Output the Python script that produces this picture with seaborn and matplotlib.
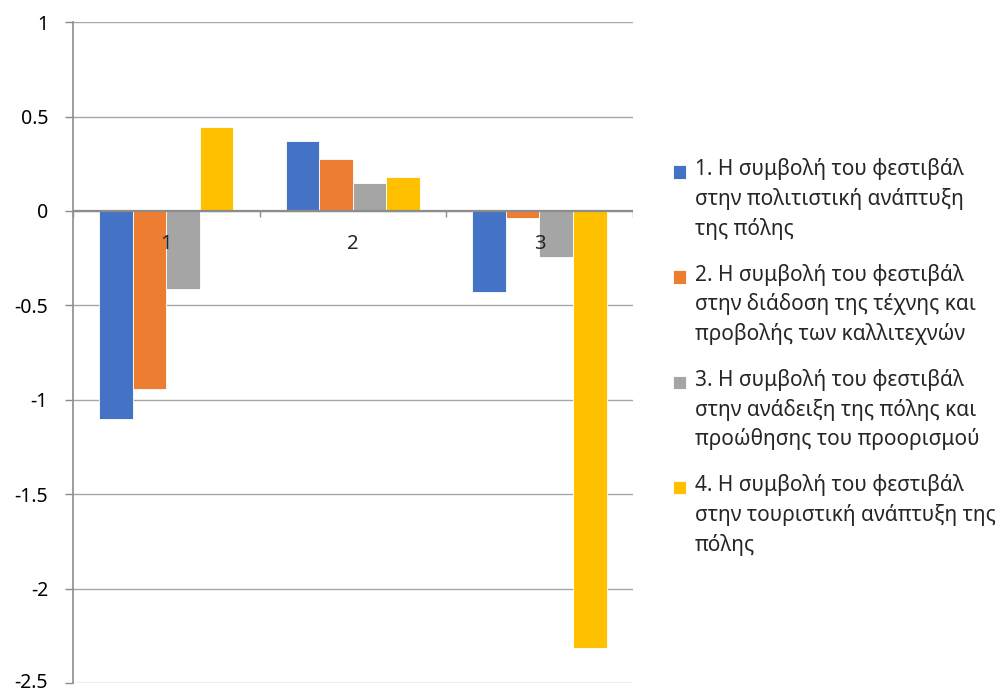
import numpy as np
import pandas as pd
import seaborn as sns
import matplotlib.pyplot as plt
import matplotlib.transforms as mtransforms

categories = ["1", "2", "3"]
series = [
    "1. Η συμβολή του φεστιβάλ\nστην πολιτιστική ανάπτυξη\nτης πόλης",
    "2. Η συμβολή του φεστιβάλ\nστην διάδοση της τέχνης και\nπροβολής των καλλιτεχνών",
    "3. Η συμβολή του φεστιβάλ\nστην ανάδειξη της πόλης και\nπροώθησης του προορισμού",
    "4. Η συμβολή του φεστιβάλ\nστην τουριστική ανάπτυξη της\nπόλης",
]
s1 = [-1.10, 0.37, -0.43]
s2 = [-0.945, 0.273, -0.039]
s3 = [-0.414, 0.146, -0.243]
s4 = [0.446, 0.181, -2.316]
colors = ["#4472C4", "#ED7D31", "#A5A5A5", "#FFC000"]
ytick_vals = [-2.5, -2, -1.5, -1, -0.5, 0, 0.5, 1]
ytick_labels = ["-2.5", "-2", "-1.5", "-1", "-0.5", "0", "0.5", "1"]

df = pd.DataFrame({
    "cat": categories * 4,
    "series": np.repeat(series, 3),
    "value": s1 + s2 + s3 + s4,
})

sns.set_style("white")
plt.rcParams["font.family"] = ["Noto Sans", "DejaVu Sans"]
fs = 14

fig = plt.figure(figsize=(10.03, 6.92), dpi=100)
ax = fig.add_axes([0.0728, 0.013, 0.558, 0.955])
sns.barplot(data=df, x="cat", y="value", hue="series", palette=colors,
            width=0.72, saturation=1, edgecolor="white", linewidth=0.6, ax=ax)

ax.set_xlim(-0.5, 2.5)
ax.set_ylim(-2.5, 1)
ax.set_yticks(ytick_vals)
ax.set_yticklabels(ytick_labels, fontsize=fs, color="#000000")
ax.tick_params(axis="y", length=6, width=1, color="#8c8c8c", pad=12, left=True)
ax.set_xticks([])
ax.set_xlabel("")
ax.set_ylabel("")
ax.yaxis.grid(True, color="#a6a6a6", lw=1)
ax.set_axisbelow(True)
for s in ["top", "right", "bottom"]:
    ax.spines[s].set_visible(False)
ax.spines["left"].set_color("#8c8c8c")
ax.spines["left"].set_linewidth(1.2)

# keep the bottom label inside the picture
lab = ax.get_yticklabels()[0]
lab.set_transform(lab.get_transform() +
                  mtransforms.ScaledTranslation(0, 3 / 100, fig.dpi_scale_trans))

# zero axis line with category boundary ticks
ax.axhline(0, color="#8c8c8c", lw=1.6, zorder=3)
ax.vlines([-0.5, 0.5, 1.5, 2.5], -0.03, 0, color="#8c8c8c", lw=1, zorder=3)
for i, c in enumerate(categories):
    ax.text(i, -0.175, c, ha="center", va="center", fontsize=14.5, zorder=4)

handles, labels = ax.get_legend_handles_labels()
ax.get_legend().remove()
leg = fig.legend(handles, labels, loc="upper left",
                 bbox_to_anchor=(663 / 1003, 1 - 148 / 692),
                 frameon=False, fontsize=15, handlelength=0.62,
                 handleheight=0.62, handletextpad=0.4, labelspacing=1.13,
                 borderpad=0, alignment="left")
for t in leg.get_texts():
    t.set_linespacing(1.46)

# move the legend squares up to the first line of each label
fig.canvas.draw()
r = fig.canvas.get_renderer()
for h, t in zip(leg.legend_handles, leg.get_texts()):
    tb = t.get_window_extent(r)
    nlines = t.get_text().count("\n") + 1
    line_h = tb.height / nlines
    target = tb.y1 - line_h / 2
    hb = h.get_window_extent(r)
    shift = (target - (hb.y0 + hb.y1) / 2) * 72 / fig.dpi
    h.set_y(h.get_y() + shift)

fig.savefig("out.png", dpi=100)
